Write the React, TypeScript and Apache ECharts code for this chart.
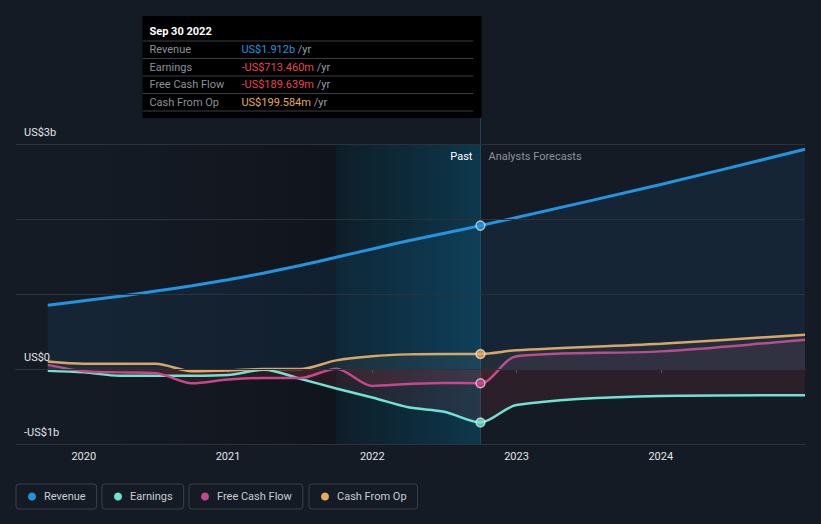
import React, { useEffect, useRef } from 'react';
import * as echarts from 'echarts';

// ---- data (years as decimal, values in US$ billions) ----
const pastDates = [2019.75, 2020.0, 2020.25, 2020.5, 2020.75, 2021.0, 2021.25, 2021.5, 2021.75, 2022.0, 2022.25, 2022.5, 2022.75];
const forecastDates = [2023.0, 2024.0, 2025.0];

const revenuePast = [0.85, 0.91, 0.97, 1.04, 1.11, 1.19, 1.28, 1.38, 1.49, 1.6, 1.71, 1.81, 1.912];
const revenueForecast = [2.02, 2.46, 2.93];

const earningsPast = [-0.025, -0.045, -0.09, -0.09, -0.09, -0.08, -0.01, -0.13, -0.26, -0.38, -0.51, -0.57, -0.713];
const earningsForecast = [-0.48, -0.36, -0.35];

const fcfPast = [0.055, -0.03, -0.045, -0.055, -0.19, -0.14, -0.12, -0.12, 0.005, -0.225, -0.2, -0.185, -0.19];
const fcfForecast = [0.17, 0.235, 0.39];

const cfoPast = [0.1, 0.07, 0.07, 0.07, -0.03, -0.02, 0.0, 0.0, 0.115, 0.17, 0.195, 0.2, 0.2];
const cfoForecast = [0.25, 0.337, 0.457];

const seriesNames = ['Revenue', 'Earnings', 'Free Cash Flow', 'Cash From Op'];
const seriesColors = ['#2394df', '#6fe3d2', '#c5488b', '#e8aa5c'];

const yearTicks = [2020, 2021, 2022, 2023, 2024];
const yLabels: Record<string, string> = { '3': 'US$3b', '0': 'US$0', '-1': '-US$1b' };

const xMin = 2019.53;
const xMax = 2025.0;
const pastEnd = 2022.75;
const highlightStart = 2021.75;
const darkenStart = 2020.0;

const tooltipTitle = 'Sep 30 2022';
const tooltipValues = ['US$1.912b', '-US$713.460m', '-US$189.639m', 'US$199.584m'];
const tooltipValueColors = ['#2394df', '#e5484d', '#e5484d', '#e8aa5c'];

const legendLefts = [16, 102, 189, 309];

const FONT = 'Roboto';

function pairs(dates: number[], vals: number[]) {
  return dates.map((d, i) => [d, vals[i]]);
}

export default function App() {
  const ref = useRef<HTMLDivElement>(null);

  useEffect(() => {
    document.body.style.margin = '0';
    const chart = echarts.init(ref.current!, null, { renderer: 'svg' });

    const allDates = [...pastDates, ...forecastDates];
    const seriesData = [
      pairs(allDates, [...revenuePast, ...revenueForecast]),
      pairs(allDates, [...earningsPast, ...earningsForecast]),
      pairs(allDates, [...fcfPast, ...fcfForecast]),
      pairs(allDates, [...cfoPast, ...cfoForecast]),
    ];
    const lastPast = [revenuePast, earningsPast, fcfPast, cfoPast].map((a) => a[a.length - 1]);

    const lineSeries = seriesNames.map((name, i) => ({
      id: 's' + i,
      name,
      type: 'line',
      data: seriesData[i],
      smooth: 0.3,
      symbol: 'none',
      z: 3 + (i === 0 ? 1 : 0),
      itemStyle: { color: seriesColors[i] },
      lineStyle: { color: seriesColors[i], width: i === 0 ? 3 : 2.5 },
      areaStyle: { color: 'rgba(0,0,0,0)' },
      emphasis: { disabled: true },
    }));

    chart.setOption({
      animation: false,
      backgroundColor: '#151b25',
      textStyle: { fontFamily: FONT },
      grid: { left: 16, right: 16, top: 144, bottom: 80, containLabel: false },
      xAxis: {
        type: 'value',
        min: xMin,
        max: xMax,
        splitLine: { show: false },
        axisLine: { show: true, lineStyle: { color: '#4b515b', width: 1 } },
        axisTick: { show: true, length: 4, lineStyle: { color: '#4b515b' }, customValues: yearTicks },
        axisLabel: {
          customValues: yearTicks,
          formatter: (v: number) => String(Math.round(v)),
          color: '#e2e4e8',
          fontSize: 11,
          fontFamily: FONT,
          margin: 7,
        },
      },
      yAxis: {
        type: 'value',
        min: -1,
        max: 3,
        interval: 1,
        axisLine: { show: false },
        axisTick: { show: false },
        splitLine: { show: true, lineStyle: { color: '#2c323c', width: 1 } },
        axisLabel: {
          inside: true,
          margin: 8,
          verticalAlign: 'bottom',
          padding: [0, 0, 6, 0],
          color: '#e2e4e8',
          fontSize: 11,
          fontFamily: FONT,
          formatter: (v: number) => yLabels[String(v)] || '',
        },
        z: 10,
      },
      legend: seriesNames.map((name, i) => ({
        data: [name],
        left: legendLefts[i],
        top: 484,
        icon: 'circle',
        itemWidth: 8,
        itemHeight: 8,
        padding: [7, 11, 7, 12],
        borderColor: '#3a404b',
        borderWidth: 1,
        borderRadius: 3,
        selectedMode: false,
        textStyle: { color: '#c9cdd3', fontSize: 11, fontFamily: FONT, padding: [0, 0, 0, 3] },
      })),
      series: [
        ...lineSeries,
        {
          id: 'pts',
          name: 'pts',
          type: 'scatter',
          z: 6,
          symbolSize: 9,
          silent: true,
          data: lastPast.map((v, i) => ({
            value: [pastEnd, v],
            itemStyle: { color: seriesColors[i], borderColor: 'rgba(255,255,255,0.75)', borderWidth: 1.5 },
          })),
        },
      ],
    });

    const px = (x: number) => chart.convertToPixel({ xAxisIndex: 0 }, x) as number;
    const py = (y: number) => chart.convertToPixel({ yAxisIndex: 0 }, y) as number;

    const yTop = py(3);
    const yBot = py(-1);
    const y0 = py(0);
    const f = (y0 - yTop) / (yBot - yTop);
    const split = (pos: string, neg: string) =>
      new echarts.graphic.LinearGradient(0, yTop, 0, yBot, [
        { offset: 0, color: pos },
        { offset: f, color: pos },
        { offset: f, color: neg },
        { offset: 1, color: neg },
      ], true);

    const xp = px(pastEnd);
    const boxRight = xp + 1;
    const boxLeft = boxRight - 339;
    const boxTop = 16;
    const boxBottom = 118;
    const sepYs = [41, 58.5, 76, 93.5, 111];
    const rowYs = [49.5, 67, 84.5, 102];

    const graphic: any[] = [
      { type: 'line', silent: true, z: 1, shape: { x1: xp, y1: boxBottom, x2: xp, y2: yBot }, style: { stroke: '#21495b', lineWidth: 1 } },
      { type: 'rect', silent: true, z: 20, shape: { x: boxLeft, y: boxTop, width: boxRight - boxLeft, height: boxBottom - boxTop }, style: { fill: '#000000' } },
      { type: 'text', silent: true, z: 21, x: boxLeft + 7, y: 31, style: { text: tooltipTitle, fill: '#ffffff', font: 'bold 11px ' + FONT, verticalAlign: 'middle' } },
      ...sepYs.map((y) => ({ type: 'line', silent: true, z: 21, shape: { x1: boxLeft, y1: y, x2: boxRight - 8, y2: y }, style: { stroke: '#3a3f47', lineWidth: 1 } })),
      ...seriesNames.map((n, i) => ({ type: 'text', silent: true, z: 21, x: boxLeft + 7, y: rowYs[i], style: { text: n, fill: '#8c9199', font: '11px ' + FONT, verticalAlign: 'middle' } })),
      ...tooltipValues.map((v, i) => ({
        type: 'text', silent: true, z: 21, x: boxLeft + 99, y: rowYs[i],
        style: {
          text: '{v|' + v + '} {u|/yr}',
          font: '11px ' + FONT,
          verticalAlign: 'middle',
          rich: { v: { fill: tooltipValueColors[i], fontSize: 11, fontFamily: FONT }, u: { fill: '#9a9ea6', fontSize: 11, fontFamily: FONT } },
        },
      })),
      { type: 'text', silent: true, z: 21, x: xp - 8, y: 156, style: { text: 'Past', fill: '#ffffff', font: '11px ' + FONT, align: 'right', verticalAlign: 'middle' } },
      { type: 'text', silent: true, z: 21, x: xp + 8, y: 156, style: { text: 'Analysts Forecasts', fill: '#8c9199', font: '11px ' + FONT, align: 'left', verticalAlign: 'middle' } },
    ];

    chart.setOption({
      series: [
        {
          id: 's0',
          areaStyle: { color: 'rgba(35,148,223,0.13)' },
          markArea: {
            silent: true,
            data: [
              [
                { xAxis: darkenStart, itemStyle: { color: new echarts.graphic.LinearGradient(0, 0, 1, 0, [{ offset: 0, color: 'rgba(5,6,10,0)' }, { offset: 1, color: 'rgba(5,6,10,0.3)' }]) } },
                { xAxis: highlightStart },
              ],
              [
                { xAxis: highlightStart, itemStyle: { color: new echarts.graphic.LinearGradient(0, 0, 1, 0, [{ offset: 0, color: 'rgba(0,35,48,0.35)' }, { offset: 1, color: 'rgba(0,100,135,0.4)' }]) } },
                { xAxis: pastEnd },
              ],
            ],
          },
          markLine: {
            silent: true,
            symbol: ['none', 'none'],
            label: { show: false },
            lineStyle: { color: '#e6e6ea', width: 1, type: 'solid' },
            data: [{ yAxis: 0 }],
          },
        },
        { id: 's1', areaStyle: { color: split('rgba(111,227,210,0.1)', 'rgba(229,62,72,0.15)') } },
        { id: 's2', areaStyle: { color: split('rgba(197,72,139,0.14)', 'rgba(229,62,72,0.16)') } },
        { id: 's3', areaStyle: { color: split('rgba(232,170,92,0.09)', 'rgba(229,62,72,0.12)') } },
      ],
      graphic,
    });

    return () => chart.dispose();
  }, []);

  return <div ref={ref} style={{ width: 821, height: 524 }} />;
}
